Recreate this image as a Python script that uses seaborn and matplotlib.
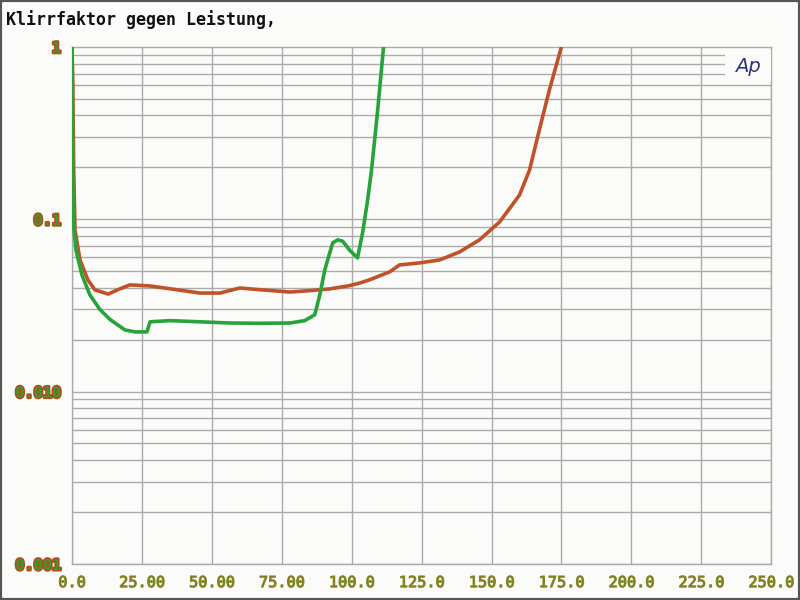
import numpy as np
import pandas as pd
import seaborn as sns
import matplotlib.pyplot as plt
import matplotlib.patheffects as pe
from matplotlib.patches import Rectangle

# --- Data (power in W, THD as fraction) ---
red_x = [0.0, 0.3, 0.6, 1.07, 2.86, 5.7, 8.2, 12.9, 16.4, 20.7, 27.9, 35.0, 45.7,
         52.9, 60.0, 67.1, 77.9, 85.0, 92.1, 99.3, 103.0, 106.4, 113.6, 117.1,
         124.3, 131.4, 138.6, 145.7, 152.9, 160.0, 163.6, 167.1, 170.7, 175.0]
red_y = [1.0, 0.6, 0.2, 0.0867, 0.058, 0.0444, 0.0389, 0.0368, 0.039, 0.0416, 0.041,
         0.0395, 0.0373, 0.0373, 0.0399, 0.039, 0.0378, 0.0385, 0.0394, 0.0412, 0.0427,
         0.0445, 0.0495, 0.0543, 0.0558, 0.058, 0.0646, 0.0759, 0.0964, 0.138, 0.193,
         0.33, 0.563, 1.0]

green_x = [0.0, 0.2, 0.36, 1.43, 3.57, 6.4, 10.0, 13.6, 18.9, 22.5, 26.8, 27.9, 35.0,
           45.7, 56.4, 67.1, 77.9, 83.2, 86.8, 88.6, 90.4, 91.1, 93.2, 95.0, 96.8,
           99.3, 102.1, 103.9, 105.7, 107.1, 109.3, 111.4]
green_y = [1.0, 0.3, 0.1, 0.066, 0.0474, 0.0364, 0.0299, 0.0262, 0.0228, 0.0222, 0.0222,
           0.0254, 0.0258, 0.0254, 0.025, 0.0249, 0.025, 0.0258, 0.0279, 0.0364, 0.0508,
           0.0558, 0.0728, 0.0759, 0.0745, 0.066, 0.0597, 0.0834, 0.129, 0.193, 0.43, 1.0]

x_ticks = [0, 25, 50, 75, 100, 125, 150, 175, 200, 225, 250]
x_labels = ["0.0", "25.00", "50.00", "75.00", "100.0", "125.0", "150.0",
            "175.0", "200.0", "225.0", "250.0"]
y_ticks = [1, 0.1, 0.01, 0.001]
y_labels = ["1", "0.1", "0.010", "0.001"]

red_df = pd.DataFrame({"P": red_x, "THD": red_y})
green_df = pd.DataFrame({"P": green_x, "THD": green_y})

sns.set_theme(style="white")
plt.rcParams['font.family'] = ['DejaVu Sans Mono', 'DejaVu Sans']

bg = "#fbfbf9"
grid_c = "#ababab"
fig = plt.figure(figsize=(8, 6), dpi=100, facecolor=bg)
ax = fig.add_axes([0.09, 0.06, 0.874, 0.862], facecolor=bg)

ax.set_yscale("log")
ax.set_xlim(0, 250)
ax.set_ylim(0.001, 1)

# grid: vertical every 25, horizontal on every log sub-decade
for xv in x_ticks:
    ax.axvline(xv, color=grid_c, lw=1.0, zorder=1)
for dec in [0.001, 0.01, 0.1]:
    for m in range(1, 10):
        ax.axhline(dec * m, color=grid_c, lw=1.0, zorder=1)

sns.lineplot(data=red_df, x="P", y="THD", ax=ax, color="#c0522a", lw=2.6,
             sort=False, estimator=None, zorder=3)
sns.lineplot(data=green_df, x="P", y="THD", ax=ax, color="#26a43a", lw=2.6,
             sort=False, estimator=None, zorder=4)

ax.set_xticks(x_ticks)
ax.set_xticklabels(x_labels)
ax.set_yticks(y_ticks)
ax.set_yticklabels(y_labels)
ax.yaxis.set_minor_locator(plt.NullLocator())
ax.tick_params(length=0, pad=8)
ax.set_xlabel("")
ax.set_ylabel("")

for t in ax.get_yticklabels():
    t.set_color("#3a9a2a")
    t.set_fontweight("bold")
    t.set_fontsize(11)
    t.set_path_effects([pe.withStroke(linewidth=2.2, foreground="#b84a20")])
for t in ax.get_xticklabels():
    t.set_color("#8c7a22")
    t.set_fontsize(11)
    t.set_path_effects([pe.withStroke(linewidth=0.8, foreground="#7a9a30")])

for s in ax.spines.values():
    s.set_color(grid_c)
    s.set_linewidth(1.0)

# Ap logo box
ax.add_patch(Rectangle((0.934, 0.932), 0.066, 0.062, transform=ax.transAxes,
                       facecolor=bg, edgecolor="none", zorder=5))
ax.text(0.967, 0.962, "Ap", transform=ax.transAxes, ha="center", va="center",
        fontsize=14, style="italic", color="#2e3480", family="DejaVu Sans", zorder=6)

fig.text(0.007, 0.968, "Klirrfaktor gegen Leistung,", fontsize=12, fontweight="bold",
         color="#111111", ha="left", va="center")

# outer frame
fig.patches.append(Rectangle((0, 0), 1, 1, transform=fig.transFigure, fill=False,
                             edgecolor="#555555", lw=3))

fig.savefig("out.png", dpi=100, facecolor=bg)
